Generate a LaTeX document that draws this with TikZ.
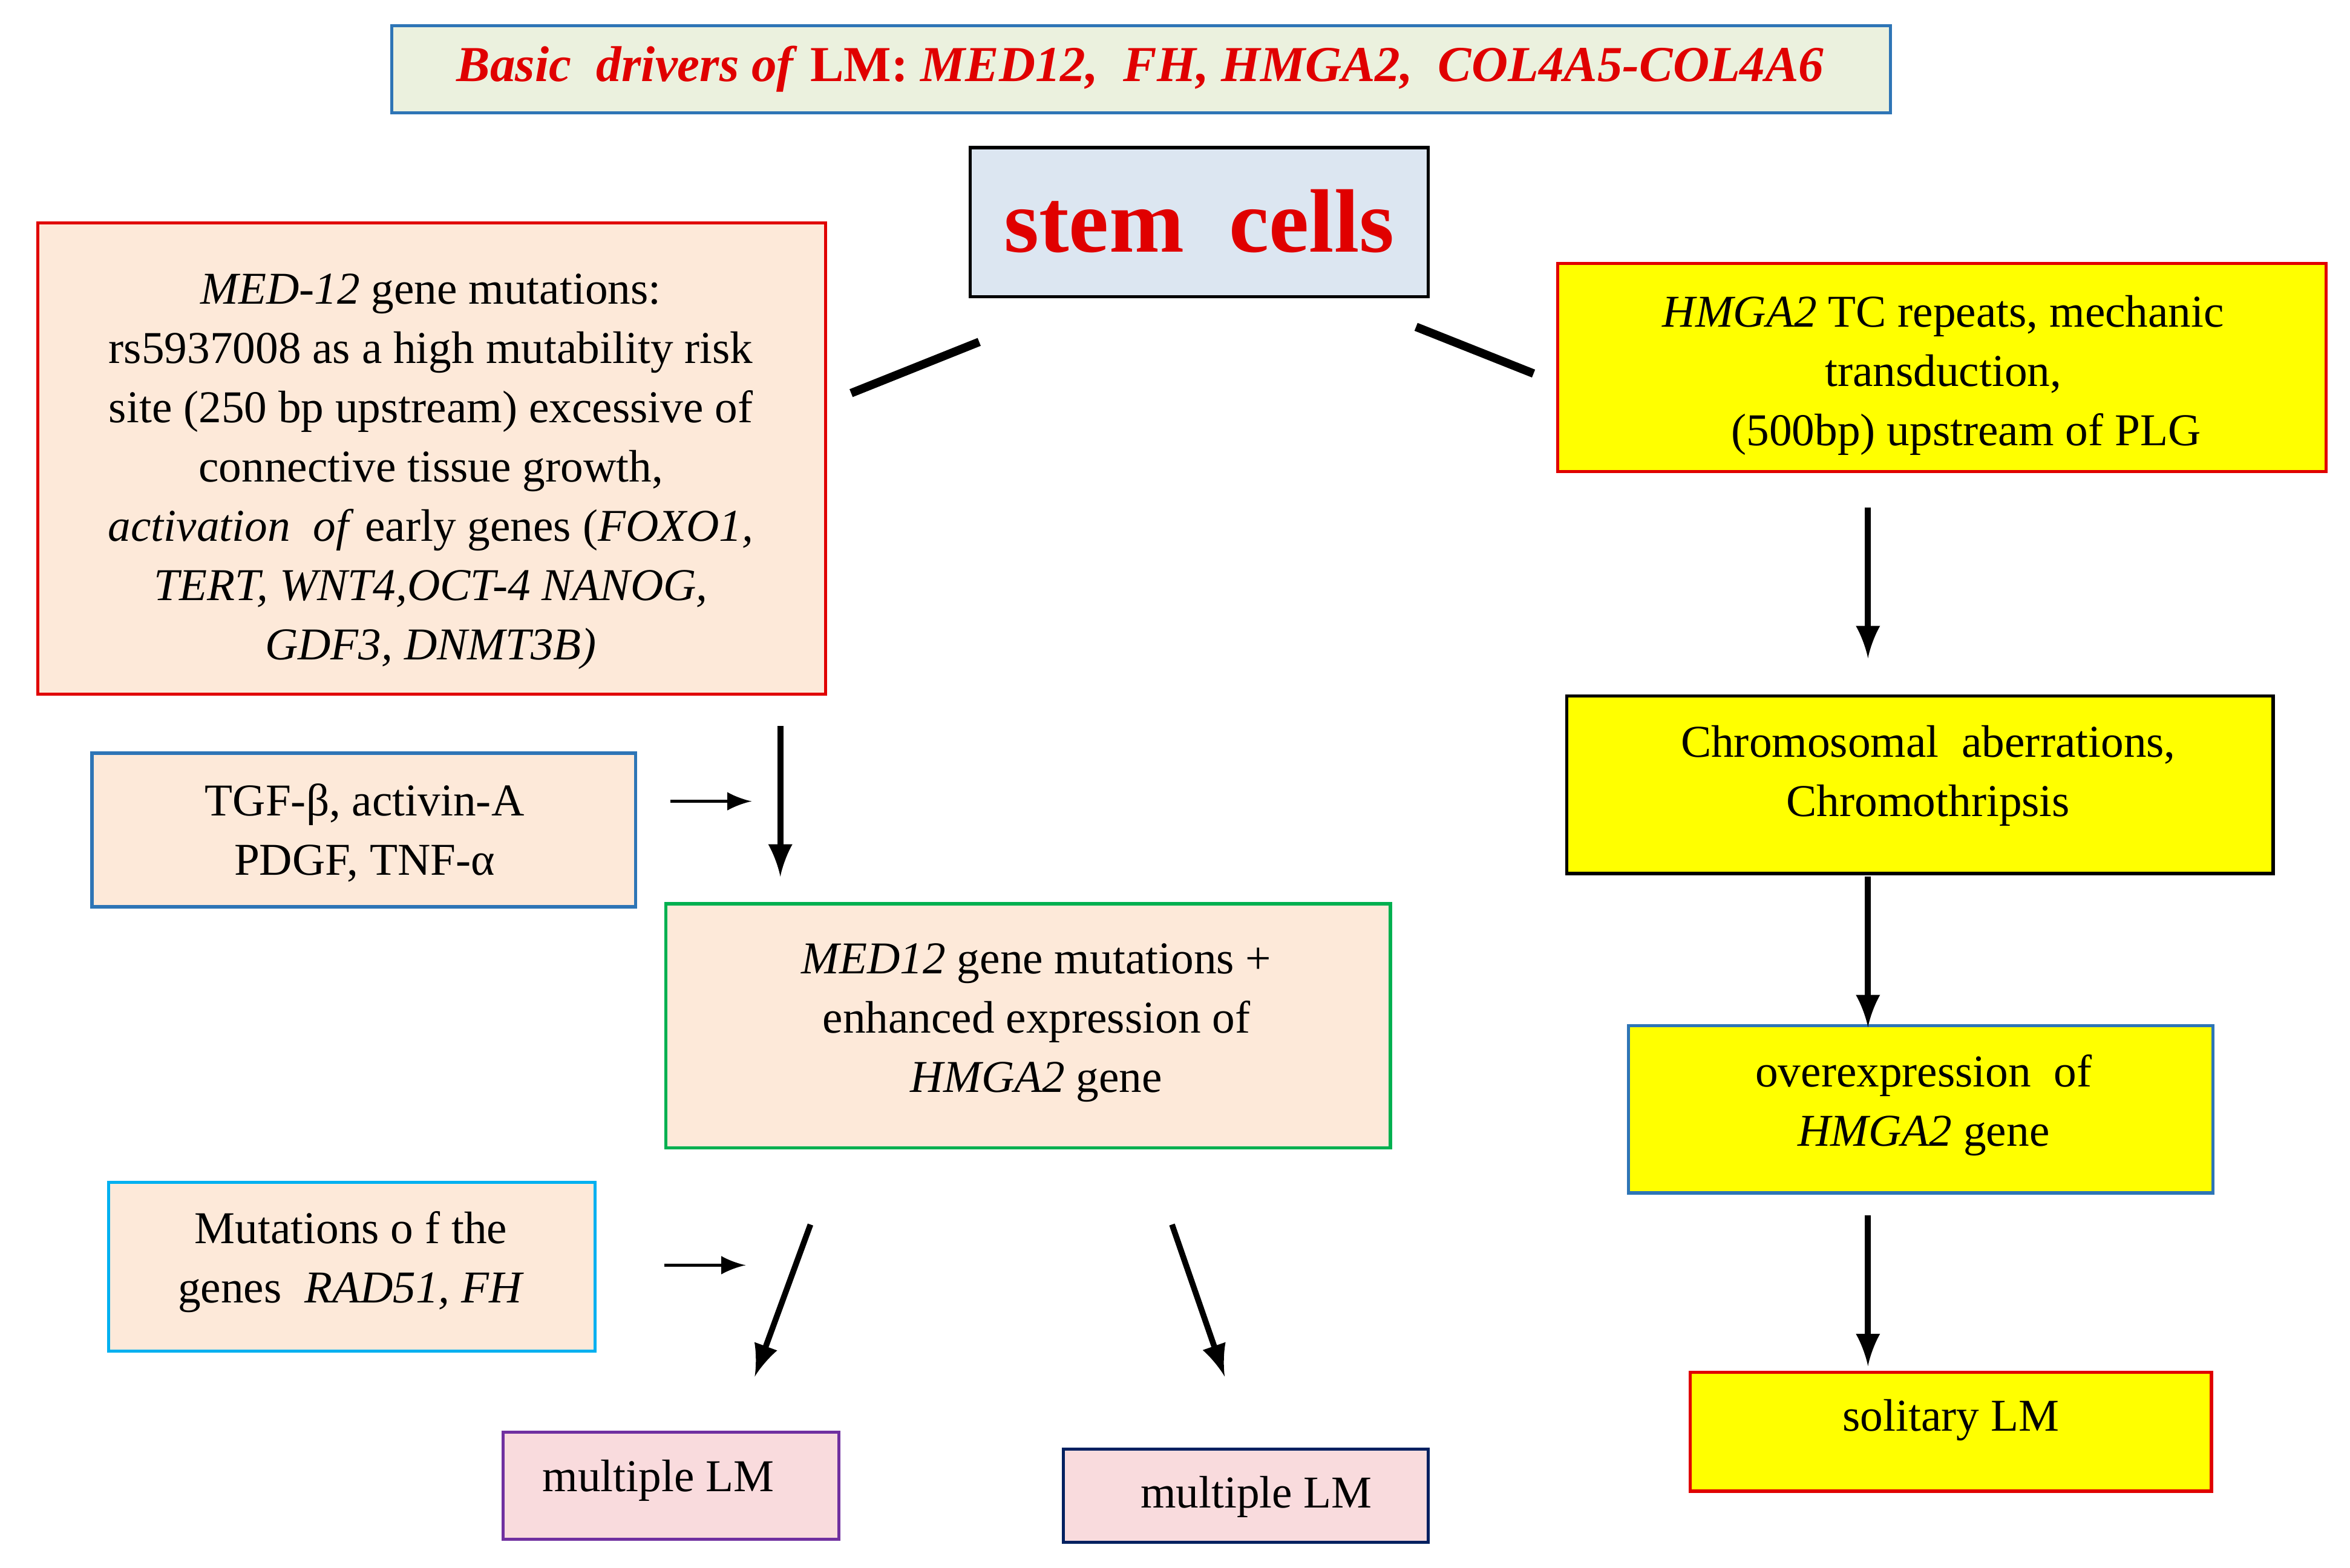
\documentclass[tikz,border=0pt]{standalone}
\usepackage{fontspec}
\setmainfont{Liberation Serif}
\begin{document}
\begin{tikzpicture}[x=0.01cm,y=-0.01cm,
 bx/.style={draw,line width=0.6pt,inner sep=0pt},
 txt/.style={align=center,font=\fontsize{8.6}{11.2}\selectfont},
 ln/.style={line width=1.6pt},
 ar/.style={line width=1.1pt,-latex},
 sar/.style={line width=0.6pt,-latex}]
\useasboundingbox (0,0) rectangle (1560,1041);
\definecolor{peach}{HTML}{FDE9D9}
\definecolor{yel}{HTML}{FFFF00}
\definecolor{rd}{HTML}{E00000}
\definecolor{bl}{HTML}{2E75B6}
\definecolor{pk}{HTML}{F9DBDD}
% boxes
\draw[bx,draw=bl,fill={rgb,255:red,235;green,241;blue,222}] (260,17) rectangle (1255,75);
\node[txt,text=rd,font=\fontsize{9.5}{11}\selectfont\bfseries] (top) at (757,46) {\textit{Basic\enspace drivers of} LM: \textit{MED12,\enspace FH, HMGA2,\enspace COL4A5-COL4A6}};
\draw[bx,draw=black,fill={rgb,255:red,220;green,230;blue,241}] (644,98) rectangle (948,197);
\node[text=rd,font=\fontsize{17}{20}\selectfont\bfseries] (stem) at (796,147) {stem\enspace cells};
\draw[bx,draw=rd,fill=peach] (25,148) rectangle (548,461);
\node[txt] (med) at (286,313) {\textit{MED-12} gene mutations:\\rs5937008 as a high mutability risk\\site (250 bp upstream) excessive of\\connective tissue growth,\\\textit{activation\enspace of} early genes (\textit{FOXO1,}\\\textit{TERT, WNT4,OCT-4 NANOG,}\\\textit{GDF3, DNMT3B)}};
\draw[bx,draw=rd,fill=yel] (1034,175) rectangle (1544,313);
\node[txt] (hm) at (1290,249) {\textit{HMGA2} TC repeats, mechanic\\transduction,\\\quad(500bp) upstream of PLG};
\draw[bx,draw=black,fill=yel] (1040,462) rectangle (1509,580);
\node[txt] (chr) at (1280,515) {Chromosomal\enspace aberrations,\\Chromothripsis};
\draw[bx,draw=bl,fill=yel] (1081,681) rectangle (1469,792);
\node[txt] (ovr) at (1277,734) {overexpression\enspace of\\\textit{HMGA2} gene};
\draw[bx,draw=rd,fill=yel] (1122,911) rectangle (1468,990);
\node[txt] (sol) at (1295,943) {solitary LM};
\draw[bx,draw=bl,fill=peach] (61,500) rectangle (422,602);
\node[txt] (tgf) at (242,553) {TGF-β, activin-A\\PDGF, TNF-α};
\draw[bx,draw={rgb,255:red,0;green,176;blue,80},fill=peach] (442,600) rectangle (923,762);
\node[txt] (mid) at (688,679) {\textit{MED12} gene mutations +\\enhanced expression of\\\textit{HMGA2} gene};
\draw[bx,draw={rgb,255:red,0;green,176;blue,240},fill=peach] (72,785) rectangle (395,897);
\node[txt] (mut) at (233,838) {Mutations o f the\\genes\enspace\textit{RAD51, FH}};
\draw[bx,draw={rgb,255:red,112;green,48;blue,160},fill=pk] (334,951) rectangle (557,1022);
\node[txt] (m1) at (437,983) {multiple LM};
\draw[bx,draw={rgb,255:red,0;green,32;blue,96},fill=pk] (706,962) rectangle (948,1024);
\node[txt] (m2) at (834,994) {multiple LM};
% connectors
\coordinate (a1) at (565,261); \coordinate (a2) at (650,227);
\coordinate (b1) at (940,217); \coordinate (b2) at (1018,248);
\draw[ln] (a1)--(a2); \draw[ln] (b1)--(b2);
\coordinate (c1) at (1240,337); \coordinate (c2) at (1240,437);
\coordinate (d1) at (518,482); \coordinate (d2) at (518,582);
\coordinate (e1) at (445,532); \coordinate (e2) at (499,532);
\coordinate (f1) at (1240,582); \coordinate (f2) at (1240,682);
\coordinate (g1) at (1240,807); \coordinate (g2) at (1240,907);
\coordinate (h1) at (441,840); \coordinate (h2) at (495,840);
\coordinate (i1) at (538,813); \coordinate (i2) at (501,914);
\coordinate (j1) at (778,813); \coordinate (j2) at (813,914);
\draw[ar] (c1)--(c2); \draw[ar] (d1)--(d2); \draw[ar] (f1)--(f2);
\draw[ar] (g1)--(g2); \draw[ar] (i1)--(i2); \draw[ar] (j1)--(j2);
\draw[sar] (e1)--(e2); \draw[sar] (h1)--(h2);
\end{tikzpicture}
\end{document}
